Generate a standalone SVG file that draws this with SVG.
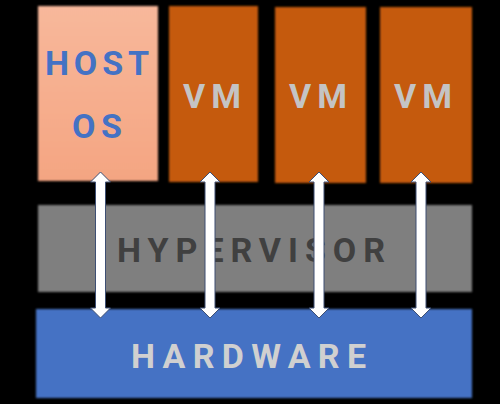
<svg xmlns="http://www.w3.org/2000/svg" width="500" height="404" viewBox="0 0 500 404">
<defs>
<filter id="soft" x="-5%" y="-5%" width="110%" height="110%"><feGaussianBlur stdDeviation="1.3"/></filter>
<linearGradient id="hostg" x1="0" y1="0" x2="0" y2="1"><stop offset="0" stop-color="#F8B89B"/><stop offset="1" stop-color="#F4A582"/></linearGradient>
</defs>
<style>
.box{filter:url(#soft)}
.t{font-family:Roboto,"Liberation Sans",sans-serif;font-weight:700;font-size:34px}
.arrow{fill:#ffffff;stroke:#3E4F73;stroke-width:1}
</style>
<rect width="500" height="404" fill="#000"/>
<g id="host-os">
<rect class="box" x="38" y="6" width="120" height="175" fill="url(#hostg)"/>
<text class="t" x="45" y="75" fill="#4472C4" textLength="104" lengthAdjust="spacing">HOST</text>
<text class="t" x="72" y="138" fill="#4472C4" textLength="50" lengthAdjust="spacing">OS</text>
</g>
<g id="vm1">
<rect class="box" x="169" y="6" width="89" height="176" fill="#C55A11"/>
<text class="t" x="183" y="108" fill="#C4C4C4" textLength="58" lengthAdjust="spacing">VM</text>
</g>
<g id="vm2">
<rect class="box" x="275" y="7" width="91" height="176" fill="#C55A11"/>
<text class="t" x="289" y="108" fill="#C4C4C4" textLength="58" lengthAdjust="spacing">VM</text>
</g>
<g id="vm3">
<rect class="box" x="380" y="7" width="92" height="176" fill="#C55A11"/>
<text class="t" x="394" y="108" fill="#C4C4C4" textLength="58" lengthAdjust="spacing">VM</text>
</g>
<g id="hypervisor">
<rect class="box" x="38" y="205" width="434" height="87" fill="#7F7F7F"/>
<text class="t" x="117" y="262" fill="#404040" textLength="268" lengthAdjust="spacing">HYPERVISOR</text>
</g>
<g id="hardware">
<rect class="box" x="36" y="309" width="436" height="89" fill="#4472C4"/>
<text class="t" x="131" y="368" fill="#D0D0D0" textLength="235" lengthAdjust="spacing">HARDWARE</text>
</g>
<g id="connectors">
<polygon class="arrow" points="100.5,172 110.5,182 105.5,182 105.5,308 110.5,308 100.5,318 90.5,308 95.5,308 95.5,182 90.5,182"/>
<polygon class="arrow" points="210,172 220,182 215,182 215,308 220,308 210,318 200,308 205,308 205,182 200,182"/>
<polygon class="arrow" points="319,172 329,182 324,182 324,308 329,308 319,318 309,308 314,308 314,182 309,182"/>
<polygon class="arrow" points="421,172 431,182 426,182 426,308 431,308 421,318 411,308 416,308 416,182 411,182"/>
</g>
</svg>
